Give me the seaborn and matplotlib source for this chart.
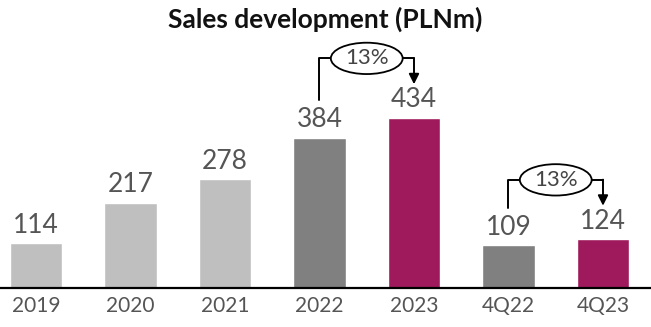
import matplotlib
matplotlib.use("Agg")
import matplotlib.pyplot as plt
from matplotlib.patches import Ellipse
import seaborn as sns
import pandas as pd

categories = ["2019", "2020", "2021", "2022", "2023", "4Q22", "4Q23"]
sales = [114, 217, 278, 384, 434, 109, 124]
growth_labels = ["13%", "13%"]
growth_pairs = [(3, 4), (5, 6)]

light = "#BFBFBF"
dark = "#808080"
magenta = "#9E1A5C"
palette = [light, light, light, dark, magenta, dark, magenta]

sns.set_theme(style="white")
plt.rcParams["font.family"] = ["Lato", "DejaVu Sans"]

df = pd.DataFrame({"cat": categories, "val": sales})

fig = plt.figure(figsize=(6.51, 3.27), dpi=100)
ax = fig.add_axes([0, 39 / 327, 1, 288 / 327])
sns.barplot(data=df, x="cat", y="val", hue="cat", palette=palette,
            legend=False, width=0.56, saturation=1, ax=ax)

ax.set_xlim(-0.381, 6.508)
ax.set_ylim(0, 735)
for s in ax.spines.values():
    s.set_visible(False)
ax.axhline(0, color="black", lw=1.6, clip_on=False)
ax.set_yticks([])
ax.set_xlabel("")
ax.set_ylabel("")
ax.tick_params(axis="x", length=0, pad=6, labelsize=15, labelcolor="#555555")

for i, v in enumerate(sales):
    ax.text(i, v + 14, str(v), ha="center", va="bottom", fontsize=19,
            color="#555555")

for (a, b), lab in zip(growth_pairs, growth_labels):
    va, vb = sales[a], sales[b]
    start = va + 95
    tip = vb + 86
    top = tip + 66
    xm = (a + b) / 2
    ew = 0.76
    eh = 80
    ax.plot([a, a, xm - ew / 2], [start, top, top], color="black", lw=1.4)
    ax.annotate("", xy=(b, tip), xytext=(b, top + 0.5),
                arrowprops=dict(arrowstyle="-|>", color="black", lw=1.4,
                                mutation_scale=15, shrinkA=0, shrinkB=0))
    ax.plot([xm + ew / 2, b], [top, top], color="black", lw=1.4)
    ax.add_patch(Ellipse((xm, top), ew, eh, facecolor="white",
                         edgecolor="black", lw=1.3, zorder=3))
    ax.text(xm, top, lab, ha="center", va="center", fontsize=16,
            color="#444444", zorder=4)

fig.text(0.5, 1 - 19 / 327, "Sales development (PLNm)", ha="center",
         va="center", fontsize=19, fontweight="bold", color="#111111")

fig.savefig("out.png", dpi=100)
